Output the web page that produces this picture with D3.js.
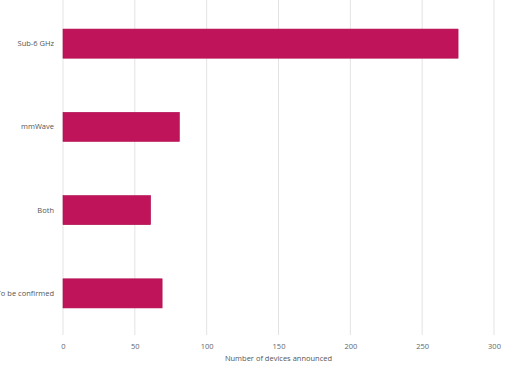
<!DOCTYPE html>
<html>
<head>
<meta charset="utf-8">
<script src="https://cdn.jsdelivr.net/npm/d3@7"></script>
<style>
  body { margin: 0; background: #fff; }
  svg { display: block; font-family: "Open Sans", sans-serif; }
</style>
</head>
<body>
<svg id="chart" width="509" height="376"></svg>
<script>
const categories = ["Sub-6 GHz", "mmWave", "Both", "To be confirmed"];
const devices = [275, 81, 61, 69];
const xTicks = [0, 50, 100, 150, 200, 250, 300];

const svg = d3.select("#chart");
const margin = { top: 2, right: 15, bottom: 41, left: 63 };
const width = +svg.attr("width"), height = +svg.attr("height");
const innerWidth = width - margin.left - margin.right;
const innerHeight = height - margin.top - margin.bottom;

const g = svg.append("g").attr("transform", `translate(${margin.left},${margin.top})`);

const x = d3.scaleLinear().domain([0, 300]).range([0, 431]);
const y = d3.scaleBand().domain(categories).range([0, innerHeight])
  .paddingInner(0.65).paddingOuter(0.325);

// grid lines
g.append("g")
  .selectAll("line")
  .data(xTicks)
  .join("line")
  .attr("x1", d => x(d)).attr("x2", d => x(d))
  .attr("y1", -2).attr("y2", innerHeight)
  .attr("stroke", "#e3e3e3")
  .attr("stroke-width", 1);

// bars
g.append("g")
  .selectAll("rect")
  .data(categories)
  .join("rect")
  .attr("x", x(0))
  .attr("y", d => y(d))
  .attr("width", (d, i) => x(devices[i]) - x(0))
  .attr("height", y.bandwidth())
  .attr("fill", "#c0145a")
  .attr("stroke", "#b01050")
  .attr("stroke-width", 0.6);

// x axis
const xAxis = g.append("g")
  .attr("transform", `translate(0,${innerHeight})`)
  .call(d3.axisBottom(x).tickValues(xTicks).tickSize(0).tickPadding(9));
xAxis.select(".domain").remove();
xAxis.selectAll("text").attr("fill", "#666").style("font-family", "'Open Sans'").style("font-size", "7.5px");

// y axis
const yAxis = g.append("g")
  .call(d3.axisLeft(y).tickSize(0).tickPadding(9));
yAxis.select(".domain").remove();
yAxis.selectAll("text").attr("fill", "#555").style("font-family", "'Open Sans'").style("font-size", "7.5px");

// axis title
g.append("text")
  .attr("x", x(150))
  .attr("y", innerHeight + 26)
  .attr("text-anchor", "middle")
  .attr("fill", "#555")
  .style("font-size", "7.5px")
  .text("Number of devices announced");
</script>
</body>
</html>
